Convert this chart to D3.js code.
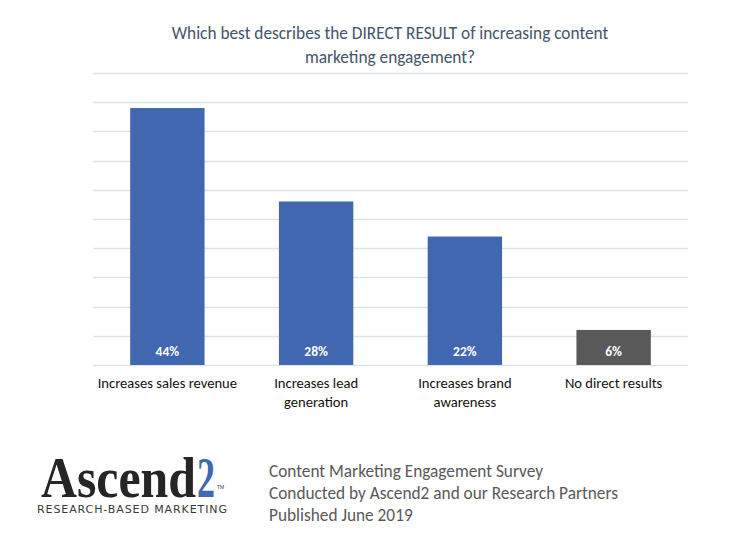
<!DOCTYPE html>
<html>
<head>
<meta charset="utf-8">
<script src="https://cdn.jsdelivr.net/npm/d3@7"></script>
<style>
  body { margin: 0; background: #fff; }
  text { font-family: Carlito, Lato, "Open Sans", sans-serif; }
</style>
</head>
<body>
<script>
// chart data
const categories = [
  "Increases sales revenue",
  "Increases lead generation",
  "Increases brand awareness",
  "No direct results",
];
const values = [44, 28, 22, 6];
const yTicks = [0, 5, 10, 15, 20, 25, 30, 35, 40, 45, 50];
const titleLines = [
  "Which best describes the DIRECT RESULT of increasing content",
  "marketing engagement?",
];
const footerLines = [
  "Content Marketing Engagement Survey",
  "Conducted by Ascend2 and our Research Partners",
  "Published June 2019",
];

const width = 750;
const height = 556;
const blue = "#4067b0";
const gray = "#595959";

const svg = d3
  .select("body")
  .append("svg")
  .attr("width", width)
  .attr("height", height);

const x = d3
  .scaleBand()
  .domain(categories)
  .range([93, 688])
  .paddingInner(0.5)
  .paddingOuter(0.25);

const y = d3.scaleLinear().domain([0, 50]).range([365, 73]);

const color = d3
  .scaleOrdinal()
  .domain(categories)
  .range([blue, blue, blue, gray]);

// title
svg
  .selectAll(".title")
  .data(titleLines)
  .join("text")
  .attr("class", "title")
  .attr("x", 390)
  .attr("y", (d, i) => 39 + i * 24)
  .attr("text-anchor", "middle")
  .attr("fill", "#44546a")
  .style("font-size", "17.3px")
  .text((d) => d);

// gridlines
svg
  .selectAll(".grid")
  .data(yTicks)
  .join("line")
  .attr("class", "grid")
  .attr("x1", 93)
  .attr("x2", 688)
  .attr("y1", (d) => Math.round(y(d)) + 0.5)
  .attr("y2", (d) => Math.round(y(d)) + 0.5)
  .attr("stroke", "#dce1ea")
  .attr("stroke-width", 1.5);

// bars
svg
  .selectAll(".bar")
  .data(categories)
  .join("rect")
  .attr("class", "bar")
  .attr("x", (d) => x(d))
  .attr("width", x.bandwidth())
  .attr("y", (d, i) => y(values[i]))
  .attr("height", (d, i) => y(0) - y(values[i]))
  .attr("fill", (d) => color(d));

// value labels inside bars
svg
  .selectAll(".value")
  .data(categories)
  .join("text")
  .attr("class", "value")
  .attr("x", (d) => x(d) + x.bandwidth() / 2)
  .attr("y", y(0) - 9)
  .attr("text-anchor", "middle")
  .attr("fill", "#fff")
  .style("font-size", "13.5px")
  .style("font-weight", "bold")
  .text((d, i) => values[i] + "%");

// category labels, wrapped to the band step
const labels = svg
  .selectAll(".cat")
  .data(categories)
  .join("text")
  .attr("class", "cat")
  .attr("text-anchor", "middle")
  .attr("fill", "#111")
  .style("font-size", "14.6px");

labels.each(function (d) {
  const el = d3.select(this);
  const cx = x(d) + x.bandwidth() / 2;
  const words = d.split(" ");
  let lines = [];
  let line = [];
  const probe = el.append("tspan");
  words.forEach((w) => {
    line.push(w);
    probe.text(line.join(" "));
    if (probe.node().getComputedTextLength() > x.step() - 4 && line.length > 1) {
      line.pop();
      lines.push(line.join(" "));
      line = [w];
    }
  });
  lines.push(line.join(" "));
  probe.remove();
  el.selectAll("tspan")
    .data(lines)
    .join("tspan")
    .attr("x", cx)
    .attr("y", (l, i) => 388 + i * 19)
    .text((l) => l);
});

// logo: one text element, tspans for the coloured 2 and the TM mark
const logoText = svg
  .append("text")
  .attr("x", 41)
  .attr("y", 497)
  .style("font-family", "'Liberation Serif', 'DejaVu Serif', serif")
  .style("font-weight", "bold")
  .style("font-size", "56px");
logoText
  .append("tspan")
  .attr("fill", "#252526")
  .attr("textLength", 155)
  .attr("lengthAdjust", "spacingAndGlyphs")
  .text("Ascend");
logoText
  .append("tspan")
  .attr("x", 197)
  .attr("fill", "#3f68b2")
  .attr("textLength", 18)
  .attr("lengthAdjust", "spacingAndGlyphs")
  .text("2");
logoText
  .append("tspan")
  .attr("x", 217)
  .attr("y", 489)
  .attr("fill", "#333")
  .style("font-family", "'Liberation Sans', sans-serif")
  .style("font-weight", "normal")
  .style("font-size", "5px")
  .text("TM");

svg
  .append("text")
  .attr("x", 37)
  .attr("y", 513)
  .attr("textLength", 190)
  .attr("lengthAdjust", "spacing")
  .attr("fill", "#3a3a3a")
  .style("font-family", "'DejaVu Sans', sans-serif")
  .style("font-size", "11px")
  .text("RESEARCH-BASED MARKETING");

// footer
svg
  .selectAll(".footer")
  .data(footerLines)
  .join("text")
  .attr("class", "footer")
  .attr("x", 269)
  .attr("y", (d, i) => 477 + i * 22)
  .attr("fill", "#595959")
  .style("font-size", "17.3px")
  .text((d) => d);
</script>
</body>
</html>
